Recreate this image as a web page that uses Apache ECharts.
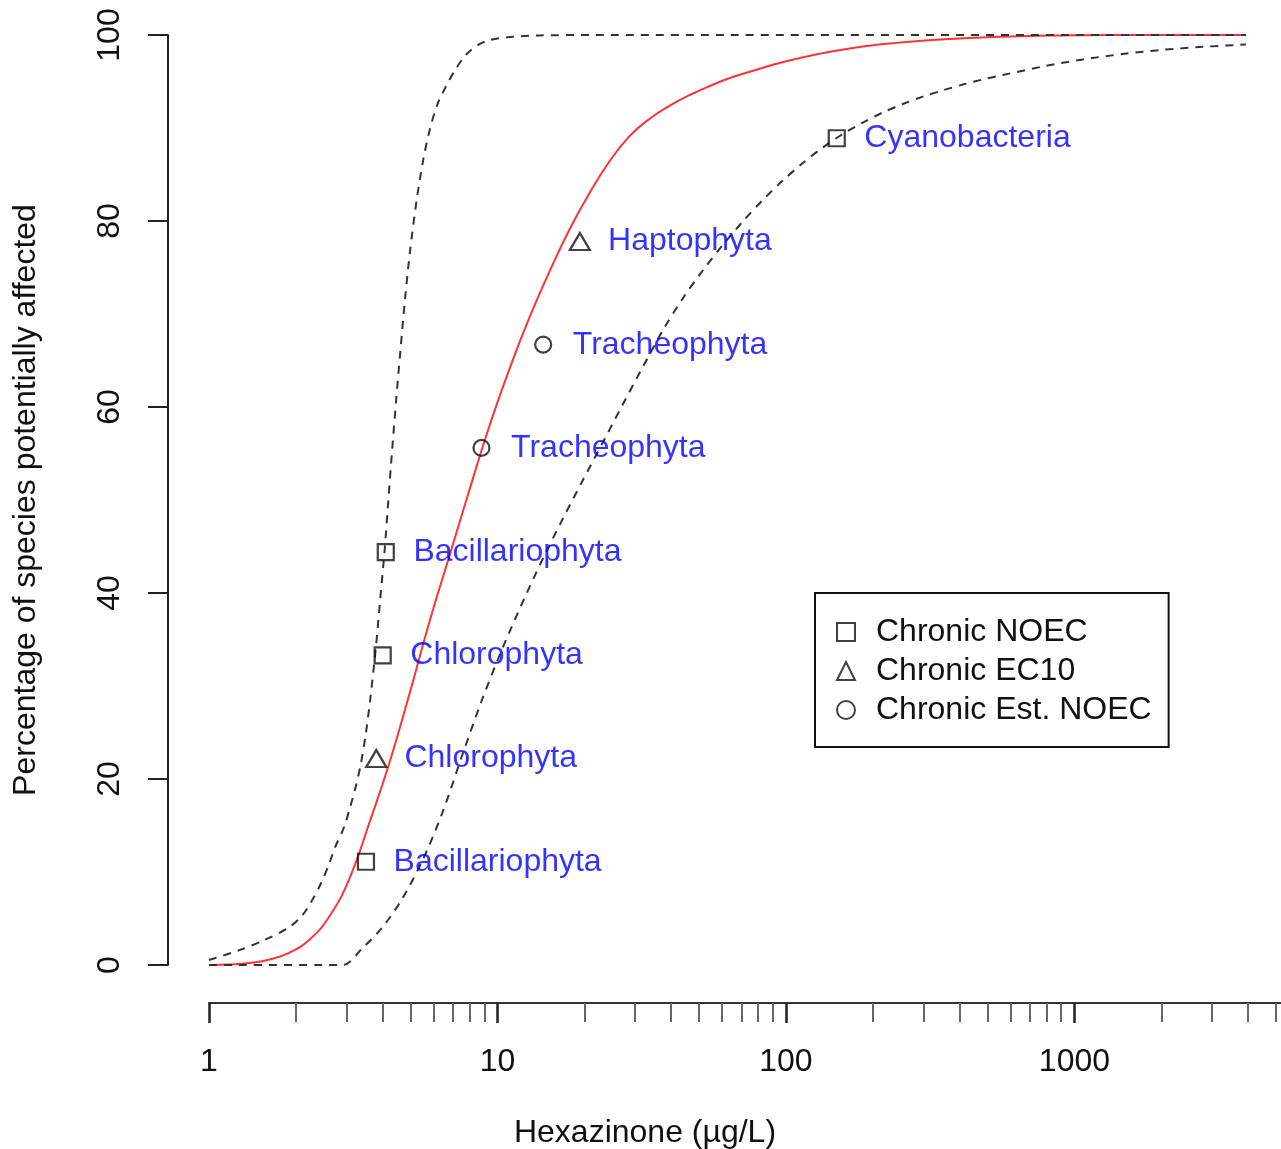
<!DOCTYPE html>
<html>
<head>
<meta charset="utf-8">
<script src="https://cdn.jsdelivr.net/npm/echarts@6/dist/echarts.min.js"></script>
<style>
html,body{margin:0;padding:0;background:#fff;}
#chart{width:1281px;height:1149px;}
</style>
</head>
<body>
<div id="chart"></div>
<script>
// ---------- data ----------
const X_MIN = 1;
const X_MAX = 5200;
const xMajorTicks = [1, 10, 100, 1000];
const xMinorTicks = [2,3,4,5,6,7,8,9,20,30,40,50,60,70,80,90,200,300,400,500,600,700,800,900,2000,3000,4000,5000];
const yTicks = [0, 20, 40, 60, 80, 100];

const xTitle = 'Hexazinone (µg/L)';
const yTitle = 'Percentage of species potentially affected';
const legendNames = ['Chronic NOEC', 'Chronic EC10', 'Chronic Est. NOEC'];

// points: [concentration, percentile]
const noecPoints = [[3.5, 11.1], [4.0, 33.3], [4.1, 44.4], [150, 88.9]];
const noecLabels = ['Bacillariophyta', 'Chlorophyta', 'Bacillariophyta', 'Cyanobacteria'];
const ec10Points = [[3.8, 22.2], [19.3, 77.8]];
const ec10Labels = ['Chlorophyta', 'Haptophyta'];
const estNoecPoints = [[8.8, 55.6], [14.4, 66.7]];
const estNoecLabels = ['Tracheophyta', 'Tracheophyta'];

// fitted curve (red)
const fitCurve = [[1.0,0],[1.179,0.05],[1.383,0.22],[1.622,0.59],[1.903,1.34],[2.233,2.74],[2.619,5.27],[3.073,9.35],[3.605,15.38],[4.229,21.83],[4.962,29.25],[5.821,36.99],[6.829,44.09],[8.011,51.18],[9.398,58.06],[11.03,64.19],[12.93,69.68],[15.17,74.62],[17.80,79.14],[20.88,83.05],[24.49,86.45],[28.73,89.15],[33.71,91.0],[39.55,92.4],[46.39,93.55],[54.43,94.52],[63.85,95.38],[74.90,96.04],[91.46,96.85],[111.7,97.53],[136.3,98.09],[166.4,98.55],[203.2,98.92],[248.1,99.18],[302.9,99.40],[369.8,99.57],[451.5,99.70],[551.2,99.81],[758.6,99.92],[1003,99.98],[1826,100],[3930,100]];
// left dashed confidence limit
const leftBand = [[1.0,0.54],[1.277,1.61],[1.559,2.69],[1.903,4.09],[2.111,5.38],[2.269,6.88],[2.438,8.71],[2.599,10.75],[2.748,12.80],[2.941,14.84],[3.085,16.99],[3.224,19.14],[3.355,21.51],[3.491,24.73],[3.619,28.49],[3.781,33.87],[3.920,39.25],[4.063,44.62],[4.185,50.0],[4.314,55.38],[4.454,60.75],[4.610,66.13],[4.778,71.51],[4.981,76.88],[5.247,82.26],[5.526,86.56],[5.821,89.78],[6.178,92.47],[6.612,94.41],[7.134,96.24],[7.760,97.85],[8.537,98.92],[9.398,99.46],[11.03,99.78],[14.01,99.95],[20.88,100],[3930,100]];
// right dashed confidence limit
const rightBand = [[1.0,0],[2.905,0],[3.409,1.83],[3.999,4.09],[4.691,7.20],[5.503,11.29],[6.457,16.45],[7.573,22.69],[8.886,28.71],[10.42,34.09],[12.23,39.03],[14.35,43.66],[16.83,47.96],[19.74,52.10],[23.17,56.18],[27.18,60.27],[31.88,64.30],[37.40,68.23],[43.87,71.67],[51.46,74.68],[60.39,77.42],[70.84,79.95],[83.11,82.26],[97.48,84.35],[114.4,86.24],[134.1,87.90],[157.4,89.35],[184.6,90.59],[216.6,91.67],[254.1,92.58],[298.1,93.37],[349.8,94.05],[410.3,94.67],[481.3,95.22],[564.7,95.70],[777.0,96.61],[1069,97.37],[1472,97.96],[2025,98.41],[2788,98.73],[3930,98.98]];

// ---------- chart ----------
const FONT = '"Liberation Sans", Arial, sans-serif';
const TXT = '#111';
const LABEL_BLUE = '#0000ff';
const SYMBOL_STYLE = {color: 'rgba(0,0,0,0)', borderColor: '#111', borderWidth: 2.2};

function pts(values, names) {
  return values.map((v, i) => ({name: names[i], value: v}));
}
function labelOpt(dist) {
  return {show: true, position: 'right', distance: dist, formatter: '{b}',
          color: LABEL_BLUE, fontSize: 32, fontFamily: FONT};
}

const chart = echarts.init(document.getElementById('chart'), null, {renderer: 'canvas'});
const option = {
  animation: false,
  backgroundColor: '#fff',
  grid: {left: 209, right: 0, top: 35, bottom: 184, containLabel: false},
  xAxis: [
    {
      type: 'log', logBase: 10, min: X_MIN, max: X_MAX, position: 'bottom', offset: 38,
      axisLine: {show: true, onZero: false, lineStyle: {color: '#333', width: 2}},
      axisTick: {show: false},
      splitLine: {show: false},
      axisLabel: {show: true, margin: 43, fontSize: 32, fontFamily: FONT, color: TXT,
                  showMaxLabel: false, formatter: v => String(v)}
    },
    {
      type: 'value', min: 0, max: Math.log10(X_MAX), position: 'bottom', offset: 38,
      axisLine: {show: false, onZero: false}, axisLabel: {show: false}, splitLine: {show: false},
      axisTick: {show: true, length: 20, lineStyle: {color: '#222', width: 2.5},
                 customValues: xMajorTicks.map(v => Math.log10(v))}
    },
    {
      type: 'value', min: 0, max: Math.log10(X_MAX), position: 'bottom', offset: 38,
      axisLine: {show: false, onZero: false}, axisLabel: {show: false}, splitLine: {show: false},
      axisTick: {show: true, length: 19, lineStyle: {color: '#666', width: 2},
                 customValues: xMinorTicks.map(v => Math.log10(v))}
    }
  ],
  yAxis: {
    type: 'value', min: yTicks[0], max: yTicks[yTicks.length - 1], interval: 20, offset: 41,
    axisLine: {show: true, onZero: false, lineStyle: {color: '#222', width: 2}},
    axisTick: {show: true, length: 20, lineStyle: {color: '#222', width: 2}},
    splitLine: {show: false},
    axisLabel: {rotate: 90, margin: 42, fontSize: 32, fontFamily: FONT, color: TXT}
  },
  legend: {
    orient: 'vertical', left: 815, top: 593,
    data: legendNames,
    itemWidth: 18, itemHeight: 18, itemGap: 7,
    symbolKeepAspect: true,
    padding: [23, 17, 21, 21],
    borderColor: '#111', borderWidth: 2, backgroundColor: '#fff',
    selectedMode: false,
    itemStyle: {color: 'rgba(0,0,0,0)', borderColor: '#111', borderWidth: 2},
    textStyle: {fontSize: 32, fontFamily: FONT, color: TXT, padding: [0, 0, 0, 16]}
  },
  graphic: [
    {type: 'text', x: 645, y: 1133, silent: true,
     style: {text: xTitle, font: '32px ' + FONT, fill: TXT, align: 'center', verticalAlign: 'middle',
             textAlign: 'center', textVerticalAlign: 'middle'}},
    {type: 'text', x: 26, y: 500, rotation: Math.PI / 2, silent: true,
     style: {text: yTitle, font: '32px ' + FONT, fill: TXT, align: 'center', verticalAlign: 'middle',
             textAlign: 'center', textVerticalAlign: 'middle'}}
  ],
  series: [
    {type: 'line', name: 'fit', data: fitCurve, smooth: 0.45, symbol: 'none', clip: false, z: 2,
     lineStyle: {color: '#ff3333', width: 2}, silent: true},
    {type: 'line', name: 'lowerCI', data: leftBand, smooth: 0.3, symbol: 'none', clip: false, z: 3,
     lineStyle: {color: '#333', width: 2, type: [8, 7]}, silent: true},
    {type: 'line', name: 'upperCI', data: rightBand, smooth: 0.3, symbol: 'none', clip: false, z: 3,
     lineStyle: {color: '#333', width: 2, type: [8, 7]}, silent: true},
    {type: 'scatter', name: legendNames[0], data: pts(noecPoints, noecLabels), symbol: 'rect', symbolSize: 16,
     itemStyle: SYMBOL_STYLE, label: labelOpt(18.5), z: 5},
    {type: 'scatter', name: legendNames[1], data: pts(ec10Points, ec10Labels), symbol: 'triangle', symbolSize: [20, 17],
     itemStyle: SYMBOL_STYLE, label: labelOpt(17), z: 5},
    {type: 'scatter', name: legendNames[2], data: pts(estNoecPoints, estNoecLabels), symbol: 'circle', symbolSize: 16,
     itemStyle: SYMBOL_STYLE, label: labelOpt(20.5), z: 5}
  ]
};
chart.setOption(option);
</script>
</body>
</html>
